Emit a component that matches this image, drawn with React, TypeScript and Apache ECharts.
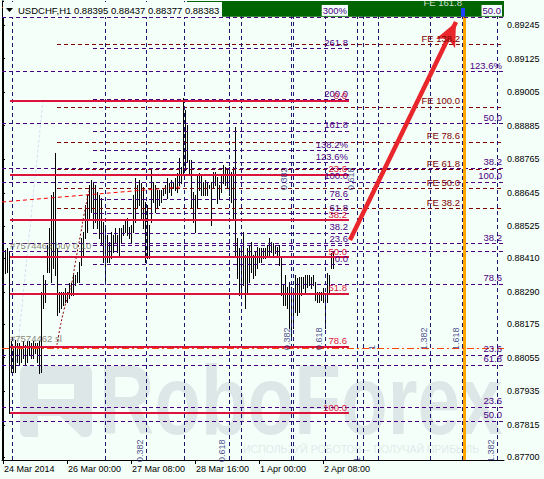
import React, { useEffect, useRef } from 'react';
import * as echarts from 'echarts';

// ---------------- data ----------------
const headerText = 'USDCHF,H1';
const lastBar = [0.88395, 0.88437, 0.88377, 0.88383];
const timeTickIndex = [0, 32, 64, 96, 128, 160];
const timeTickLabels = ['24 Mar 2014', '26 Mar 00:00', '27 Mar 08:00', '28 Mar 16:00', '1 Apr 00:00', '2 Apr 08:00'];
const priceTicks = [0.89245, 0.89125, 0.89005, 0.88885, 0.88765, 0.88645, 0.88525, 0.8841, 0.8829, 0.88175, 0.88055, 0.87935, 0.87815, 0.877];
const priceMin = 0.87689;
const priceMax = 0.89331;
const slotCount = 251;

const highs = [
  0.88542, 0.8844, 0.88446, 0.88434, 0.88113, 0.88089, 0.88119, 0.88107, 0.88107, 0.88089,
  0.88113, 0.88101, 0.88113, 0.88113, 0.88107, 0.88113, 0.88107, 0.88107, 0.88113, 0.88291,
  0.88351, 0.88333, 0.88458, 0.88518, 0.88637, 0.88649, 0.88786, 0.88446, 0.88291, 0.88291,
  0.88291, 0.88303, 0.88291, 0.88321, 0.88321, 0.88351, 0.88351, 0.88363, 0.88399, 0.88482,
  0.88506, 0.88601, 0.88637, 0.88673, 0.88691, 0.88685, 0.88673, 0.88649, 0.88637, 0.88625,
  0.88542, 0.88518, 0.88494, 0.8847, 0.88506, 0.88494, 0.88518, 0.88494, 0.88518, 0.88518,
  0.8853, 0.88548, 0.88554, 0.88524, 0.8853, 0.88637, 0.88697, 0.88673, 0.88691, 0.88679,
  0.88667, 0.88613, 0.88601, 0.8853, 0.88726, 0.88685, 0.88673, 0.88655, 0.88655, 0.88655,
  0.88661, 0.88673, 0.88697, 0.88679, 0.88691, 0.88685, 0.88697, 0.88715, 0.88768, 0.88738,
  0.88983, 0.88941, 0.88887, 0.88762, 0.88762, 0.88649, 0.88637, 0.88709, 0.88715, 0.88709,
  0.88685, 0.88691, 0.88679, 0.88673, 0.88685, 0.88721, 0.88721, 0.88703, 0.88673, 0.88709,
  0.88744, 0.88738, 0.88732, 0.88738, 0.88721, 0.88738, 0.88881, 0.88482, 0.88446, 0.88446,
  0.88506, 0.88422, 0.88446, 0.88458, 0.8847, 0.88422, 0.88434, 0.88452, 0.88446, 0.88446,
  0.88446, 0.88446, 0.88458, 0.88482, 0.8847, 0.88464, 0.88458, 0.88452, 0.88458, 0.88411,
  0.88315, 0.88351, 0.88309, 0.88327, 0.88309, 0.88303, 0.88351, 0.88339, 0.88345, 0.88345,
  0.88345, 0.88351, 0.88351, 0.88351, 0.88345, 0.88351, 0.88327, 0.88291, 0.88291, 0.88291,
  0.88303, 0.88279, 0.88357, 0.88351, 0.88428, 0.88437,
];
const lows = [
  0.88357, 0.88357, 0.88363, 0.87856, 0.88005, 0.88005, 0.88005, 0.88041, 0.88029, 0.88041,
  0.88053, 0.88029, 0.88041, 0.88065, 0.88053, 0.88053, 0.88071, 0.88041, 0.87999, 0.88005,
  0.88232, 0.88256, 0.88363, 0.88363, 0.88327, 0.88375, 0.88351, 0.88208, 0.8822, 0.88232,
  0.88244, 0.88256, 0.88256, 0.88267, 0.88279, 0.88279, 0.88315, 0.88327, 0.88327, 0.88387,
  0.88422, 0.88482, 0.88506, 0.88554, 0.88577, 0.88518, 0.88542, 0.88518, 0.88482, 0.88458,
  0.88399, 0.88327, 0.88399, 0.88399, 0.88411, 0.88434, 0.8847, 0.88434, 0.88417, 0.8847,
  0.88494, 0.88506, 0.88494, 0.88482, 0.88464, 0.88506, 0.88542, 0.88589, 0.88601, 0.88548,
  0.88518, 0.88399, 0.88411, 0.88411, 0.88542, 0.88613, 0.88577, 0.88589, 0.88601, 0.88613,
  0.88637, 0.88643, 0.88625, 0.88649, 0.88637, 0.88661, 0.88655, 0.88649, 0.88673, 0.88679,
  0.88715, 0.88726, 0.88756, 0.88709, 0.88595, 0.88542, 0.88506, 0.88589, 0.88655, 0.88637,
  0.88637, 0.88637, 0.88637, 0.88661, 0.8853, 0.88661, 0.88673, 0.88607, 0.88625, 0.88649,
  0.88679, 0.88673, 0.88661, 0.88637, 0.88613, 0.88554, 0.88422, 0.88339, 0.88279, 0.88291,
  0.88315, 0.88232, 0.88291, 0.88327, 0.88363, 0.88339, 0.88351, 0.88375, 0.88399, 0.88399,
  0.88411, 0.88411, 0.88422, 0.88422, 0.88434, 0.88422, 0.88428, 0.88422, 0.88387, 0.88279,
  0.88244, 0.88244, 0.88232, 0.8816, 0.88124, 0.8816, 0.8822, 0.88208, 0.8822, 0.88279,
  0.88303, 0.88291, 0.88309, 0.88315, 0.88303, 0.88315, 0.88262, 0.88256, 0.88256, 0.88262,
  0.88256, 0.8816, 0.88256, 0.88291, 0.88375, 0.88377,
];

// Fibonacci retracement (crimson): anchors high / low
const retrHigh = 0.88973;
const retrLow = 0.87857;
const retrRatios = [0, 23.6, 38.2, 50, 61.8, 78.6, 100];
const retrLabels = ['0.0', '23.6', '38.2', '50.0', '61.8', '78.6', '100.0'];

// Fibonacci expansion group (purple, mid-chart)
const expZero = 0.88389;
const expHundred = 0.88684;
const expRatios = [0, 23.6, 38.2, 61.8, 78.6, 100, 123.6, 138.2, 161.8, 200, 261.8, 300];
const expLabels = ['0.0', '23.6', '38.2', '61.8', '78.6', '100.0', '123.6%', '138.2%', '161.8', '200.0', '261.8', '300%'];

// Fibonacci expansion (FE, maroon)
const feZero = 0.88367;
const feHundred = 0.88952;
const feRatios = [38.2, 50, 61.8, 78.6, 100, 138.2, 161.8];
const feLabels = ['FE 38.2', 'FE 50.0', 'FE 61.8', 'FE 78.6', 'FE 100.0', 'FE 138.2', 'FE 161.8'];

// Other full-width fibo levels (purple, labelled at the right)
const rightLevels = [0.89274, 0.8908, 0.88894, 0.88734, 0.88684, 0.88465, 0.88437, 0.88319, 0.88065, 0.88029, 0.87879, 0.87829];
const rightLabels = ['50.0', '123.6%', '50.0', '38.2', '100.0', '38.2', '', '78.6', '23.6', '61.8', '23.6', '50.0'];

// Fibonacci time zones (bar index anchors)
const timeZones = [
  { start: 4.5, end: 180, ratios: [0, 0.382, 0.618, 1, 1.382], labelRatios: [0.382, 0.618, 1, 1.382], labelPrice: priceMin },
  { start: 119, end: 187.5, ratios: [0, 0.382, 0.618, 1, 1.382, 1.618], labelRatios: [0.382, 0.618, 1, 1.382, 1.618], labelPrice: 0.8809 },
  { start: 90.5, end: 230.5, ratios: [0, 0.382, 0.618, 1], labelRatios: [0.382, 0.618], labelPrice: 0.88662 },
];
const extraVerticals = [51];
const markerVertical = 230.5;

// Orders / drawings
const stopLoss = 0.8809;
const takeProfit = 0.89309;
const trendArrow = [[173.5, 0.88476], [226.5, 0.89256]];
const tradeLine = [[-0.5, 0.88612], [89.5, 0.88666]];
const arcPoints = [[27, 0.88101], [28.5, 0.88161], [30.5, 0.88226], [32.5, 0.88279], [34.5, 0.88326], [36, 0.88387], [37.5, 0.88448], [39, 0.88505], [40.5, 0.88566], [42, 0.88619], [43.5, 0.88662]];
const faintLine = [[20, 0.88977], [6.5, 0.88029]];
const greenBoxTop = [92, 250.5, 0.89275, priceMax];
const blueBox = [229, 231, 0.89275, 0.89306];

// ---------------- styling ----------------
const W = 544;
const H = 479;
const FONT = 'Liberation Sans, Arial, sans-serif';
const MINT = '#F5FFFA';
const PURPLE = '#4B0082';
const NAVY = '#191970';
const MAROON = '#800000';
const CRIMSON = '#DC143C';
const DASH = [4, 3];
const X0 = -0.5;
const X1 = slotCount - 0.5;

const fib = (a0: number, a100: number, r: number) => a0 + ((a100 - a0) * r) / 100;

function seg(p: number, i0: number, i1: number, color: string, type: any, width: number, text?: string, textColor?: string, bg?: string) {
  return [
    {
      coord: [i0, p],
      lineStyle: { color, type, width },
      label: text
        ? {
            show: true,
            formatter: text,
            position: 'insideEndTop',
            distance: [2, 1],
            color: textColor || color,
            fontSize: 9.5,
            fontFamily: FONT,
            backgroundColor: bg,
            padding: bg ? [1, 1, 0, 1] : 0,
          }
        : { show: false },
    },
    { coord: [i1, p] },
  ];
}

function annot(i: number, p: number, text: string, color: string, extra: any = {}) {
  return {
    value: [i, p],
    label: {
      show: true,
      position: 'inside',
      formatter: text,
      color,
      fontSize: 9.5,
      fontFamily: FONT,
      align: 'left',
      verticalAlign: 'bottom',
      ...extra,
    },
  };
}

function buildOption() {
  const greenBottom = greenBoxTop[2];
  const baseLines: any[] = [];
  const topLines: any[] = [];
  const annots: any[] = [];

  // right full-width levels
  rightLevels.forEach((p, k) => {
    const s = seg(p, X0, X1, PURPLE, DASH, 1, rightLabels[k] || undefined, PURPLE, p >= greenBottom - 0.00002 ? MINT : undefined);
    (p >= greenBottom - 0.00002 ? topLines : baseLines).push(s);
  });
  // expansion group
  expRatios.forEach((r, k) => {
    const p = fib(expZero, expHundred, r);
    const top = p >= greenBottom - 0.00003;
    const s = seg(p, 45, 173.5, PURPLE, DASH, 1, expLabels[k], PURPLE, top ? MINT : undefined);
    (top ? topLines : baseLines).push(s);
  });
  // FE group
  feRatios.forEach((r, k) => {
    const p = fib(feZero, feHundred, r);
    if (p > greenBottom) {
      baseLines.push(seg(p, 27, X1, MAROON, DASH, 1));
      annots.push(annot(229.5, p, feLabels[k], '#ffffff', { align: 'right', offset: [0, 2] }));
    } else {
      baseLines.push(seg(p, 27, 229.5, MAROON, DASH, 1, feLabels[k], MAROON));
      baseLines.push(seg(p, 229.5, X1, MAROON, DASH, 1));
    }
  });
  // vertical time zones
  timeZones.forEach((tz) => {
    tz.ratios.forEach((r) => {
      baseLines.push({ xAxis: tz.start + r * (tz.end - tz.start), lineStyle: { color: NAVY, type: DASH, width: 1 }, label: { show: false } });
    });
    tz.labelRatios.forEach((r) => {
      const pos = tz.start + r * (tz.end - tz.start);
      annots.push(
        annot(pos, tz.labelPrice, r === 1 ? '1' : r.toFixed(3), NAVY, { rotate: 90, fontSize: 9, offset: [-2, -2] })
      );
    });
  });
  extraVerticals.forEach((i) => baseLines.push({ xAxis: i, lineStyle: { color: NAVY, type: DASH, width: 1 }, label: { show: false } }));
  baseLines.push({ xAxis: markerVertical, lineStyle: { color: '#FFA500', type: 'solid', width: 3 }, label: { show: false } });
  // stop loss line
  baseLines.push(seg(stopLoss, X0, X1, '#FF4500', [7, 3, 2, 3], 1));
  // crimson retracement (drawn last on top)
  retrRatios.forEach((r, k) => {
    const p = fib(retrHigh, retrLow, r);
    baseLines.push(seg(p, 3.5, 173, CRIMSON, 'solid', 2, retrLabels[k], CRIMSON));
  });

  topLines.push(seg(takeProfit, X0, X1, '#FF4500', [7, 3, 2, 3], 1));

  annots.push(annot(3.5, 0.88458, '#7574463 buy 0.10', '#6b6655', { verticalAlign: 'middle' }));
  annots.push(annot(3.5, 0.88122, '#7574462 sl', '#6b6655', { verticalAlign: 'middle' }));

  const rects = [
    { box: greenBoxTop, fill: '#006400' },
    { box: blueBox, fill: '#1f3fff' },
  ];

  return {
    animation: false,
    backgroundColor: MINT,
    grid: { left: 2, right: 40, top: 1, bottom: 19, containLabel: false },
    xAxis: {
      type: 'value',
      min: X0,
      max: X1,
      axisLine: { show: true, onZero: false, lineStyle: { color: '#000', width: 1 } },
      axisTick: { show: true, customValues: timeTickIndex, length: 4, lineStyle: { color: '#000' } },
      axisLabel: {
        show: true,
        customValues: timeTickIndex,
        formatter: (v: number) => timeTickLabels[timeTickIndex.indexOf(Math.round(v))] || '',
        align: 'left',
        margin: 4,
        color: '#000',
        fontSize: 9,
        fontFamily: FONT,
        padding: [0, 0, 0, 1],
      },
      splitLine: { show: false },
    },
    yAxis: [
      {
        type: 'value',
        position: 'right',
        min: priceMin,
        max: priceMax,
        axisLine: { show: true, lineStyle: { color: '#000', width: 1 } },
        axisTick: { show: true, customValues: priceTicks, length: 2, lineStyle: { color: '#000' } },
        axisLabel: {
          show: true,
          customValues: priceTicks,
          formatter: (v: number) => v.toFixed(5),
          margin: 3,
          color: '#000',
          fontSize: 9,
          fontFamily: FONT,
        },
        splitLine: { show: false },
      },
      {
        type: 'value',
        position: 'left',
        min: priceMin,
        max: priceMax,
        axisLine: { show: true, lineStyle: { color: '#000', width: 1 } },
        axisTick: { show: false },
        axisLabel: { show: false },
        splitLine: { show: false },
      },
    ],
    graphic: [
      // watermark
      {
        type: 'rect',
        z: 0,
        shape: { x: 20, y: 366, width: 72, height: 71, r: 6 },
        style: { fill: '#dde7e8' },
      },
      { type: 'rect', z: 1, shape: { x: 38, y: 384, width: 36, height: 15 }, style: { fill: MINT } },
      { type: 'polygon', z: 1, shape: { points: [[38, 416], [60, 416], [82, 437], [38, 437]] }, style: { fill: MINT } },
      {
        type: 'text',
        z: 0,
        x: 99,
        y: 400,
        scaleX: 0.78,
        style: { text: 'RoboForex', fontSize: 98, fontWeight: 'bold', fontFamily: FONT, fill: '#dde7e8', verticalAlign: 'middle', align: 'left' },
      },
      {
        type: 'text',
        z: 0,
        x: 243,
        y: 449,
        style: { text: 'ИСПОЛЬЗУЙ РОБОТОВ – ПОЛУЧАЙ ПРИБЫЛЬ', fontSize: 10.5, fontFamily: FONT, fill: '#e2eaea', verticalAlign: 'middle' },
      },
      // header
      { type: 'rect', z: 100, shape: { x: 3, y: 2, width: 219, height: 15 }, style: { fill: MINT } },
      { type: 'polygon', z: 101, shape: { points: [[6, 8], [13, 8], [9.5, 12]] }, style: { fill: '#000' } },
      {
        type: 'text',
        z: 101,
        x: 18,
        y: 10,
        style: {
          text: headerText + ' ' + lastBar.map((v) => v.toFixed(5)).join(' '),
          fontSize: 9.5,
          fontFamily: FONT,
          fill: '#000',
          verticalAlign: 'middle',
        },
      },
    ],
    series: [
      {
        type: 'custom',
        name: 'bars',
        z: 2,
        silent: true,
        data: highs.map((h, i) => [i, h, lows[i]]),
        encode: { x: 0, y: [1, 2] },
        renderItem: (params: any, api: any) => {
          const a = api.coord([api.value(0), api.value(1)]);
          const b = api.coord([api.value(0), api.value(2)]);
          const x = Math.round(a[0]) + 0.5;
          return {
            type: 'line',
            shape: { x1: x, y1: Math.round(a[1]), x2: x, y2: Math.round(b[1]) + 1 },
            style: { stroke: '#000', lineWidth: 1 },
          };
        },
      },
      {
        type: 'line',
        name: 'levels',
        z: 3,
        silent: true,
        data: [[X0, priceMin]],
        symbol: 'none',
        lineStyle: { opacity: 0 },
        markLine: { symbol: ['none', 'none'], silent: true, animation: false, label: { show: false }, data: baseLines },
      },
      {
        type: 'line',
        name: 'trade',
        z: 3,
        silent: true,
        data: tradeLine,
        symbol: 'none',
        lineStyle: { color: '#FF0000', width: 1, type: [4, 3] },
      },
      {
        type: 'line',
        name: 'arc',
        z: 3,
        silent: true,
        data: arcPoints,
        symbol: 'none',
        smooth: true,
        lineStyle: { color: '#8B0000', width: 1, type: [2, 2] },
      },
      {
        type: 'line',
        name: 'faint',
        z: 1,
        silent: true,
        data: faintLine,
        symbol: 'none',
        lineStyle: { color: '#d4dcf6', width: 1, type: [3, 2] },
      },
      {
        type: 'custom',
        name: 'boxes',
        z: 5,
        silent: true,
        data: rects.map((r) => [r.box[0], r.box[3]]),
        renderItem: (params: any, api: any) => {
          const r = rects[params.dataIndex];
          const a = api.coord([r.box[0], r.box[3]]);
          const b = api.coord([r.box[1], r.box[2]]);
          return {
            type: 'rect',
            shape: { x: a[0], y: a[1], width: b[0] - a[0], height: b[1] - a[1] },
            style: { fill: r.fill },
          };
        },
      },
      {
        type: 'line',
        name: 'top',
        z: 6,
        silent: true,
        data: [[X0, priceMin]],
        symbol: 'none',
        lineStyle: { opacity: 0 },
        markLine: {
          symbol: ['none', 'none'],
          silent: true,
          animation: false,
          label: { show: false },
          data: [
            ...topLines,
            {
              yAxis: lastBar[3],
              lineStyle: { opacity: 0 },
              label: {
                show: true,
                position: 'end',
                distance: 0,
                formatter: lastBar[3].toFixed(5),
                color: '#fff',
                backgroundColor: '#000',
                fontSize: 9,
                fontFamily: FONT,
                padding: [2, 6, 1, 3],
              },
            },
          ],
        },
      },
      {
        type: 'line',
        name: 'arrow',
        z: 6,
        silent: true,
        data: [[X0, priceMin]],
        symbol: 'none',
        lineStyle: { opacity: 0 },
        markLine: {
          symbol: ['none', 'arrow'],
          symbolSize: [16, 24],
          silent: true,
          animation: false,
          label: { show: false },
          lineStyle: { color: '#E8262B', width: 4.5, type: 'solid' },
          data: [[{ coord: trendArrow[0] }, { coord: trendArrow[1] }]],
        },
      },
      {
        type: 'scatter',
        name: 'labels',
        z: 7,
        silent: true,
        symbolSize: 1,
        itemStyle: { color: 'rgba(0,0,0,0)' },
        data: annots,
      },
    ],
  };
}

export default function App() {
  const ref = useRef<HTMLDivElement>(null);
  useEffect(() => {
    const chart = echarts.init(ref.current as HTMLDivElement, null, { renderer: 'svg' });
    chart.setOption(buildOption() as any);
    return () => chart.dispose();
  }, []);
  return <div ref={ref} style={{ position: 'fixed', left: 0, top: 0, width: W, height: H }} />;
}
